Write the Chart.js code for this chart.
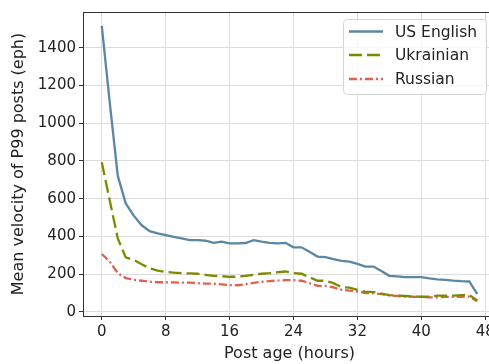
<!DOCTYPE html>
<html>
<head>
<meta charset="utf-8">
<script src="https://cdn.jsdelivr.net/npm/chart.js@4/dist/chart.umd.min.js"></script>
<style>
  html, body { margin: 0; padding: 0; background: #fff; overflow: hidden; }
  #wrap { width: 500px; height: 364px; }
</style>
</head>
<body>
<div id="wrap"><canvas id="velocityChart" width="500" height="364"></canvas></div>
<script>
// hours since posting (0..47)
const hours = [];
for (let h = 0; h < 48; h++) hours.push(h);

const usEnglish = [1516, 1110, 722, 575, 510, 459, 428, 416, 407, 398, 390, 380,
  380, 377, 366, 372, 363, 363, 365, 380, 372, 366, 363, 366,
  342, 342, 319, 293, 290, 280, 270, 266, 254, 240, 240, 217,
  191, 188, 184, 184, 184, 177, 172, 170, 166, 163, 161, 95];

const ukrainian = [793, 590, 390, 289, 275, 252, 231, 219, 212, 208, 205, 204,
  202, 196, 191, 189, 186, 186, 191, 196, 202, 205, 210, 214,
  205, 202, 184, 165, 165, 152, 131, 129, 117, 107, 105, 97,
  89, 86, 84, 81, 80, 80, 86, 86, 86, 89, 89, 61];

const russian = [307, 266, 205, 179, 170, 165, 159, 157, 157, 156, 155, 155,
  152, 150, 149, 146, 142, 141, 147, 154, 159, 163, 166, 168,
  168, 165, 152, 138, 138, 130, 117, 113, 108, 100, 98, 94,
  87, 84, 81, 80, 79, 77, 77, 79, 79, 80, 81, 56];

const xTicks = [0, 8, 16, 24, 32, 40, 48];
const yTicks = [0, 200, 400, 600, 800, 1000, 1200, 1400];

const FONT = "'DejaVu Sans', sans-serif";

function toPoints(vals) {
    return vals.map((v, i) => ({ x: hours[i], y: v }));
}

// frame (top spine) + legend inside the plot, like matplotlib
const framePlugin = {
    id: 'frameAndLegend',
    afterDraw(chart) {
        const { ctx, chartArea: a } = chart;
        ctx.save();
        ctx.strokeStyle = '#333';
        ctx.lineWidth = 1;
        ctx.beginPath();
        ctx.moveTo(a.left, a.top + 0.5);
        ctx.lineTo(a.right, a.top + 0.5);
        ctx.stroke();

        // legend box
        const bx = 343, by = 19, bw = 143, bh = 75, r = 4;
        ctx.fillStyle = 'rgba(255,255,255,0.8)';
        ctx.strokeStyle = '#d5d5d5';
        ctx.beginPath();
        ctx.roundRect(bx + 0.5, by + 0.5, bw, bh, r);
        ctx.fill();
        ctx.stroke();

        const rows = [31.5, 55, 79];
        chart.data.datasets.forEach((ds, i) => {
            const y = rows[i];
            ctx.strokeStyle = ds.borderColor;
            ctx.lineWidth = ds.borderWidth;
            ctx.setLineDash(ds.borderDash || []);
            ctx.beginPath();
            ctx.moveTo(349, y);
            ctx.lineTo(383, y);
            ctx.stroke();
            ctx.setLineDash([]);
            ctx.fillStyle = '#222';
            ctx.font = '15.5px ' + FONT;
            ctx.textBaseline = 'middle';
            ctx.fillText(ds.label, 395, y + 1);
        });
        ctx.restore();
    }
};

const ctx = document.getElementById('velocityChart').getContext('2d');
const velocityChart = new Chart(ctx, {
    type: 'line',
    data: {
        datasets: [
            {
                label: 'US English',
                data: toPoints(usEnglish),
                borderColor: '#5a87a3',
                borderWidth: 2.3,
                pointRadius: 0,
                tension: 0
            },
            {
                label: 'Ukrainian',
                data: toPoints(ukrainian),
                borderColor: '#7d8a00',
                borderWidth: 2.3,
                borderDash: [13, 5],
                pointRadius: 0,
                tension: 0
            },
            {
                label: 'Russian',
                data: toPoints(russian),
                borderColor: '#e2604f',
                borderWidth: 2.3,
                borderDash: [8, 3, 2, 3],
                pointRadius: 0,
                tension: 0
            }
        ]
    },
    options: {
        responsive: false,
        animation: false,
        layout: { padding: { top: 10, right: 4, left: 0, bottom: 0 } },
        plugins: {
            legend: { display: false },
            tooltip: { enabled: false }
        },
        scales: {
            x: {
                type: 'linear',
                min: -2.35,
                max: 49.35,
                afterBuildTicks: scale => { scale.ticks = xTicks.map(v => ({ value: v })); },
                afterFit: scale => { scale.height = 48; },
                grid: { color: '#dcdcdc', lineWidth: 1, tickColor: '#333', tickLength: 4 },
                border: { color: '#333', width: 1 },
                ticks: { color: '#222', font: { family: FONT, size: 15 }, padding: 3, maxRotation: 0,
                    callback: v => String(v) },
                title: {
                    display: true,
                    text: 'Post age (hours)',
                    color: '#222',
                    font: { family: FONT, size: 16 },
                    padding: { top: 0, bottom: 1 }
                }
            },
            y: {
                min: -22,
                max: 1590,
                afterBuildTicks: scale => { scale.ticks = yTicks.map(v => ({ value: v })); },
                afterFit: scale => { scale.width = 83; },
                grid: { color: '#dcdcdc', lineWidth: 1, tickColor: '#333', tickLength: 4 },
                border: { color: '#333', width: 1 },
                ticks: { color: '#222', font: { family: FONT, size: 15 }, padding: 3,
                    callback: v => String(v) },
                title: {
                    display: true,
                    text: 'Mean velocity of P99 posts (eph)',
                    color: '#222',
                    font: { family: FONT, size: 16 },
                    padding: { top: 9, bottom: 0 }
                }
            }
        }
    },
    plugins: [framePlugin]
});
</script>
</body>
</html>
